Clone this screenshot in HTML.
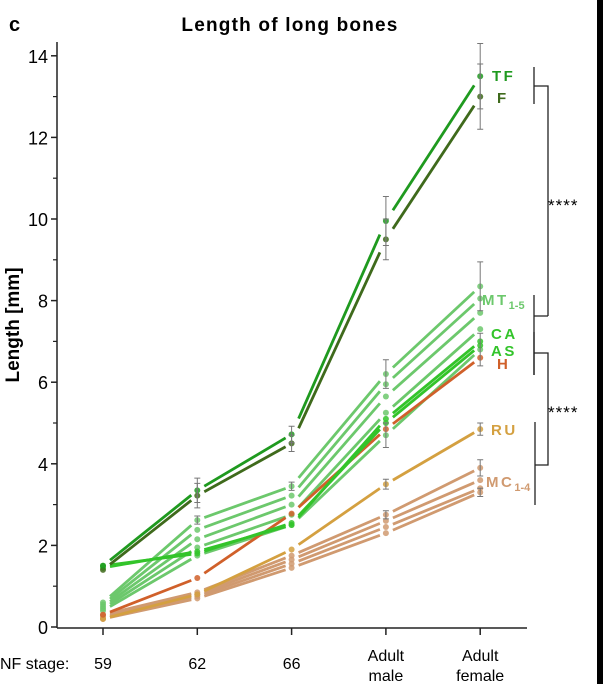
<!DOCTYPE html>
<html><head><meta charset="utf-8"><style>
body{margin:0;background:#fff;width:603px;height:684px;overflow:hidden;font-family:"Liberation Sans",sans-serif}
</style></head><body>
<svg id="chart" width="603" height="684" xmlns="http://www.w3.org/2000/svg" font-family="Liberation Sans, sans-serif">
<rect x="597" y="0" width="6" height="684" fill="#000"/>
<text x="9" y="31" font-size="20" font-weight="bold">c</text>
<text x="290" y="31" font-size="19" font-weight="bold" letter-spacing="1.2" text-anchor="middle">Length of long bones</text>
<text transform="translate(19,325) rotate(-90)" font-size="19" font-weight="bold" text-anchor="middle">Length [mm]</text>
<g id="axes"></g><g id="marks"></g>
<g stroke="#222" stroke-width="1.3" fill="none">
<path d="M534 67V104M534 86H548V316M534 295V375M534 316H548"/>
<path d="M534 332V375M534 353H548V465H535M535 422V505"/>
</g>
<text x="548" y="211" font-size="17" letter-spacing="1">****</text>
<text x="548" y="418" font-size="17" letter-spacing="1">****</text>
</svg>
<script>
const stages=["59","62","66","Adult male","Adult female"];
const yTicks=[0,2,4,6,8,10,12,14];
const TF=[1.5,3.35,4.72,9.95,13.5];
const F=[1.4,3.22,4.5,9.5,13.0];
const MT1=[0.6,2.62,3.45,6.2,8.35];
const MT2=[0.55,2.38,3.22,5.95,8.05];
const MT3=[0.5,2.15,3.0,5.65,7.7];
const MT4=[0.45,1.95,2.75,5.25,7.3];
const MT5=[0.4,1.75,2.5,4.7,6.8];
const CA=[1.45,1.85,2.5,5.1,7.0];
const AS=[1.5,1.8,2.55,5.0,6.9];
const H=[0.3,1.2,2.78,4.85,6.6];
const RU=[0.2,0.8,1.9,3.5,4.85];
const MC1=[0.3,0.85,1.75,2.75,3.9];
const MC2=[0.25,0.8,1.65,2.6,3.6];
const MC3=[0.2,0.75,1.55,2.45,3.4];
const MC4=[0.2,0.7,1.45,2.3,3.3];
const NS="http://www.w3.org/2000/svg";
const xs=i=>103+i*94.3;
const ys=v=>627-v*40.8;
function el(t,a,p){const e=document.createElementNS(NS,t);for(const k in a)e.setAttribute(k,a[k]);p.appendChild(e);return e;}
const ax=document.getElementById('axes'),mk=document.getElementById('marks');
let a=el('line',{x1:57,y1:42,x2:57,y2:628,stroke:'#222','stroke-width':1.5},ax);


a=el('line',{x1:57,y1:628,x2:527,y2:628,stroke:'#222','stroke-width':1.5},ax);


yTicks.forEach(v=>{
 let t=el('line',{x1:51,x2:57,y1:ys(v),y2:ys(v),stroke:'#222','stroke-width':1.5},ax);
 
 
 t=el('text',{x:48,y:ys(v)+7,'font-size':18,'text-anchor':'end'},ax);t.textContent=v;
 
 
 if(v<14){t=el('line',{x1:53,x2:57,y1:ys(v+1),y2:ys(v+1),stroke:'#222','stroke-width':1.2},ax);
 
 }
});
let nf=el('text',{x:0,y:669,'font-size':16},ax);nf.textContent="NF stage:";


stages.forEach((s,i)=>{
 let t=el('line',{x1:xs(i),x2:xs(i),y1:628,y2:635,stroke:'#222','stroke-width':1.5},ax);
 
 
 const parts=s.split(' ');
 parts.forEach((p,j)=>{
  const tx=el('text',{x:xs(i),y:(parts.length>1?661:669)+j*20,'font-size':16,'text-anchor':'middle'},ax);tx.textContent=p;
  
  
 });
});
const series=[
 ["mt1",MT1,"#6cc86c"],["mt2",MT2,"#6cc86c"],["mt3",MT3,"#6cc86c"],["mt4",MT4,"#6cc86c"],["mt5",MT5,"#6cc86c"],
 ["mc1",MC1,"#d09a70"],["mc2",MC2,"#d09a70"],["mc3",MC3,"#d09a70"],["mc4",MC4,"#d09a70"],
 ["ru",RU,"#d4a040"],["h",H,"#d0602a"],["ca",CA,"#33c42a"],["as",AS,"#33c42a"],
 ["f",F,"#3f6a1c"],["tf",TF,"#1f9a1f"]];
series.forEach(([n,vals,c])=>{
 const g=el('g',{},mk);
 
 
 vals.forEach((v,i)=>{
  if(i<vals.length-1){
   const x1=xs(i),y1=ys(v),x2=xs(i+1),y2=ys(vals[i+1]);
   const s=(x2-x1),f0=7/s,f1=6/s;
   const l=el('line',{x1:x1+s*f0,y1:y1+(y2-y1)*f0,x2:x2-s*f1,y2:y2-(y2-y1)*f1,stroke:c,'stroke-width':2.8},g);
   
   
  }
  const p=el('circle',{cx:xs(i),cy:ys(v),r:3,fill:c,opacity:0.85},g);
  
  
 });
});
[[TF,4,0.8],[F,4,0.8],[MT1,4,0.6],[MT5,4,0.4],[RU,4,0.15],[MC1,4,0.2],[MC4,4,0.1],[TF,3,0.6],[F,3,0.5],[MT1,3,0.35],[MT5,3,0.3],[RU,3,0.12],[MC1,3,0.1],[TF,2,0.2],[F,2,0.2],[MT1,2,0.1],[TF,1,0.3],[F,1,0.3],[MT1,1,0.1]].forEach(([s,i,e])=>{
 const x=xs(i);
 const b=el('path',{d:`M${x} ${ys(s[i]+e)}V${ys(s[i]-e)}M${x-3} ${ys(s[i]+e)}h6M${x-3} ${ys(s[i]-e)}h6`,stroke:'#777','stroke-width':1,fill:'none'},mk);
 
 
});
const labels=[["TF",492,81,"#1f9a1f"],["F",497,103,"#3f6a1c"],["MT",482,305,"#6cc86c"],["CA",491,339,"#33c42a"],["AS",491,356,"#33c42a"],["H",497,369,"#d0602a"],["RU",491,435,"#d4a040"],["MC",486,487,"#d09a70"]];
labels.forEach(([t,x,y,c])=>{
 const tx=el('text',{x:x,y:y,'font-size':15,'font-weight':'bold',fill:c,'letter-spacing':2.5},mk);tx.textContent=t;
 if(t==="MT"||t==="MC"){const s=el('tspan',{'font-size':11,dy:4,'letter-spacing':0},tx);s.textContent=t==="MT"?"1-5":"1-4";}
 
 
});
</script>
</body></html>
